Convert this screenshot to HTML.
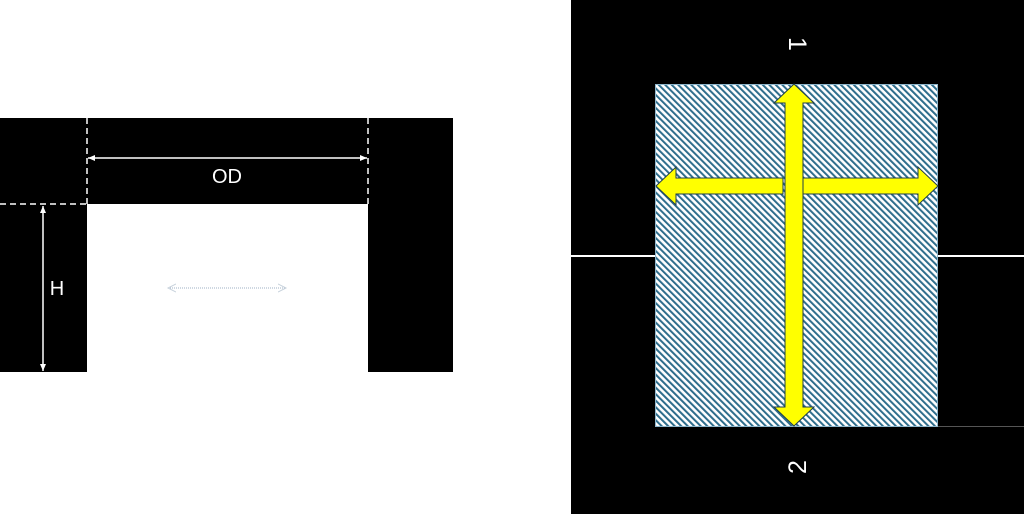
<!DOCTYPE html>
<html><head><style>body{margin:0;background:#fff}</style></head><body>
<svg width="1024" height="514" xmlns="http://www.w3.org/2000/svg" style="display:block">
<defs>
<pattern id="h" width="4.6" height="5" patternUnits="userSpaceOnUse" patternTransform="rotate(-45)">
<rect width="4.6" height="5" fill="#fff"/><rect width="2" height="5" fill="#2e6d8c"/>
</pattern>
<marker id="a" markerWidth="8" markerHeight="8" refX="7" refY="4" orient="auto-start-reverse" markerUnits="userSpaceOnUse"><path d="M0,1 L7,4 L0,7 z" fill="#fff"/></marker>
<marker id="g" markerWidth="10" markerHeight="10" refX="8" refY="5" orient="auto-start-reverse" markerUnits="userSpaceOnUse"><path d="M0,1 L8,5 L0,9" fill="none" stroke="#c8d2dc" stroke-width="1"/></marker>
</defs>
<rect x="0" y="118" width="453" height="86" fill="#000"/>
<rect x="0" y="204" width="87" height="168" fill="#000"/>
<rect x="368" y="204" width="85" height="168" fill="#000"/>
<g stroke="#fff" stroke-width="1.5" stroke-dasharray="6,4" fill="none">
<line x1="87" y1="118" x2="87" y2="204"/>
<line x1="368" y1="118" x2="368" y2="204"/>
<line x1="0" y1="204" x2="87" y2="204"/>
</g>
<line x1="88" y1="158" x2="367" y2="158" stroke="#fff" stroke-width="1.5" marker-start="url(#a)" marker-end="url(#a)"/>
<line x1="43" y1="206" x2="43" y2="371" stroke="#fff" stroke-width="1.5" marker-start="url(#a)" marker-end="url(#a)"/>
<text x="227" y="183" fill="#fff" font-family="Liberation Sans, sans-serif" font-size="20" text-anchor="middle">OD</text>
<text x="57" y="295" fill="#fff" font-family="Liberation Sans, sans-serif" font-size="20" text-anchor="middle">H</text>
<line x1="168" y1="288" x2="286" y2="288" stroke="#9fb2c6" stroke-width="1" stroke-dasharray="1,1" marker-start="url(#g)" marker-end="url(#g)"/>
<rect x="571" y="0" width="453" height="514" fill="#000"/>
<line x1="571" y1="256" x2="655" y2="256" stroke="#fff" stroke-width="2"/>
<line x1="938" y1="256" x2="1024" y2="256" stroke="#fff" stroke-width="2"/>
<line x1="938" y1="426.5" x2="1024" y2="426.5" stroke="#555" stroke-width="1"/>
<rect x="655.5" y="84.5" width="282" height="342" fill="url(#h)" stroke="#8fb7cc" stroke-width="1"/>
<path d="M656,186 L676,167 L676,178 L783,178 L783,194 L676,194 L676,205 Z M938,186 L918,167 L918,178 L803,178 L803,194 L918,194 L918,205 Z" fill="#ffff00" stroke="#1e3d4d" stroke-width="1"/>
<path d="M794,84 L814,103 L803,103 L803,407 L814,407 L794,426 L774,407 L785,407 L785,103 L774,103 Z" fill="#ffff00" stroke="#1e3d4d" stroke-width="1"/>
<text transform="translate(789,44) rotate(90)" fill="#fff" font-family="Liberation Sans, sans-serif" font-size="25" text-anchor="middle">1</text>
<text transform="translate(806,467) rotate(-90)" fill="#fff" font-family="Liberation Sans, sans-serif" font-size="25" text-anchor="middle">2</text>
</svg>
</body></html>
